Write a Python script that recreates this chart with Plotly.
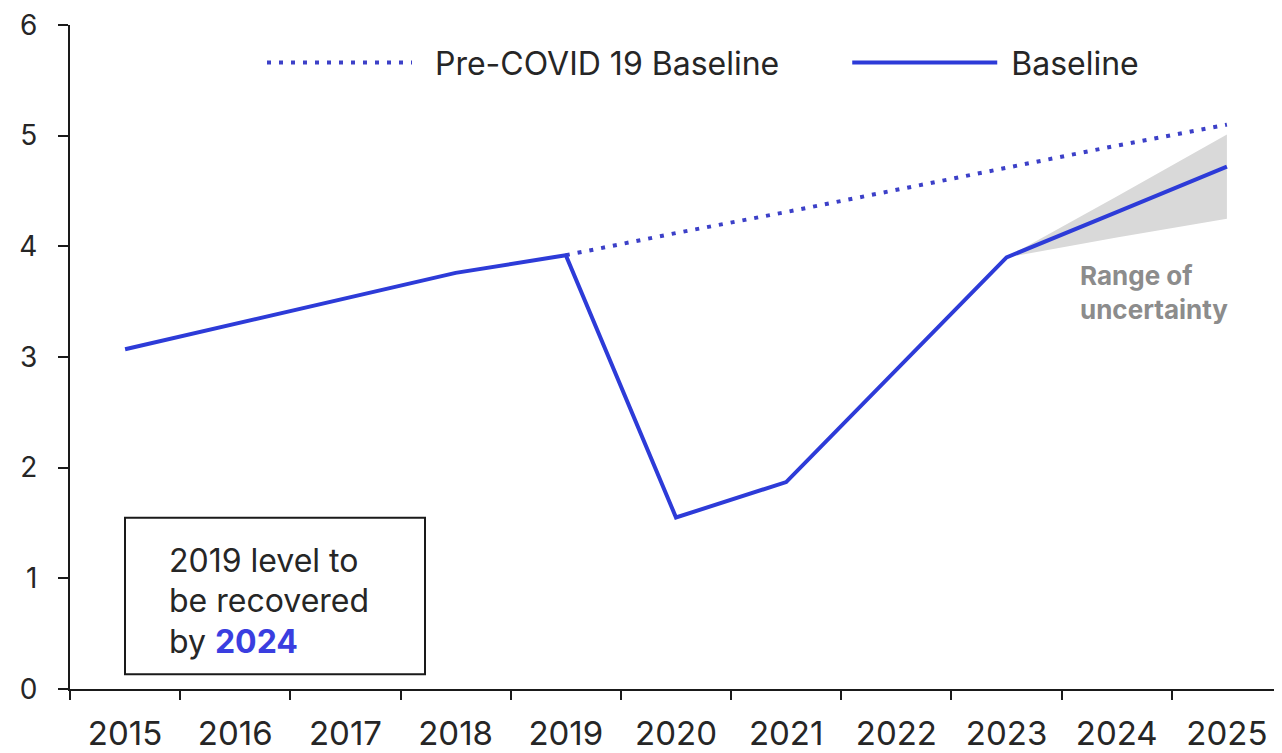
import plotly.graph_objects as go

years = ["2015", "2016", "2017", "2018", "2019", "2020", "2021", "2022", "2023", "2024", "2025"]
baseline = [3.07, 3.30, 3.53, 3.76, 3.92, 1.55, 1.87, 2.89, 3.90, 4.31, 4.72]
pre_covid_years = ["2019", "2020", "2021", "2022", "2023", "2024", "2025"]
pre_covid = [3.92, 4.12, 4.31, 4.51, 4.71, 4.91, 5.10]
band_years = ["2023", "2024", "2025"]
band_upper = [3.90, 4.45, 5.01]
band_lower = [3.90, 4.08, 4.25]
y_ticks = [0, 1, 2, 3, 4, 5, 6]

BLUE = "#2d3bd8"
DOT_BLUE = "#3c40c8"
TEXT = "#262626"
FONT = "Inter"
NB = "\u00a0"

# page body has an 8px margin; compensate so the plot area sits at
# x 70..1282 and y 22..693 in the window
OFF = 8
W, H = 1282 - OFF, 753 - OFF

fig = go.Figure()
fig.add_trace(go.Scatter(x=band_years, y=band_lower, mode="lines",
                         line=dict(width=0, color="rgba(0,0,0,0)"),
                         showlegend=False, hoverinfo="skip"))
fig.add_trace(go.Scatter(x=band_years, y=band_upper, mode="lines",
                         line=dict(width=0, color="rgba(0,0,0,0)"),
                         fill="tonexty", fillcolor="#d9d9d9",
                         showlegend=False, hoverinfo="skip"))
fig.add_trace(go.Scatter(x=pre_covid_years, y=pre_covid, mode="lines",
                         name=NB * 2 + "Pre-COVID 19 Baseline" + NB * 7,
                         line=dict(color=DOT_BLUE, width=4, dash="4px,8px")))
fig.add_trace(go.Scatter(x=years, y=baseline, mode="lines",
                         name=NB + "Baseline",
                         line=dict(color=BLUE, width=4)))

# annotation box
fig.add_shape(type="rect", xref="paper", yref="paper",
              x0=(125 - 70) / 1212, x1=(425 - 70) / 1212,
              y0=(693 - 678) / 671, y1=(693 - 520) / 671,
              line=dict(color="#1a1a1a", width=2), fillcolor="rgba(0,0,0,0)")
box_lines = ["2019 level to", "be recovered",
             "by <b><span style='color:#3a3ee0'>2024</span></b>"]
box_y = [563, 604, 645]
for t, py in zip(box_lines, box_y):
    fig.add_annotation(xref="paper", yref="paper", x=(167 - 70) / 1212,
                       y=(693 - py) / 671, text=t, showarrow=False,
                       xanchor="left", yanchor="middle",
                       font=dict(family=FONT, size=32, color=TEXT))

for t, py in zip(["Range of", "uncertainty"], [275, 310]):
    fig.add_annotation(xref="paper", yref="paper", x=(1078 - 70) / 1212,
                       y=(693 - py) / 671, text="<b>" + t + "</b>", showarrow=False,
                       xanchor="left", yanchor="middle",
                       font=dict(family=FONT, size=26, color="#8c8c8c"))

fig.update_layout(
    width=W, height=H,
    margin=dict(l=70 - OFF, r=0, t=22 - OFF, b=60 - OFF),
    paper_bgcolor="white", plot_bgcolor="white",
    font=dict(family=FONT, size=28, color=TEXT),
    legend=dict(orientation="h", x=(262 - 70) / 1212, y=(693 - 60) / 671,
                xanchor="left", yanchor="middle", itemwidth=145,
                font=dict(family=FONT, size=32, color=TEXT),
                bgcolor="rgba(0,0,0,0)", traceorder="normal"),
    xaxis=dict(type="category", categoryorder="array", categoryarray=years,
               range=[-0.5, 10.5], tickson="boundaries", ticks="outside",
               ticklen=9, tickwidth=2, tickcolor="#1a1a1a",
               showline=True, linecolor="#1a1a1a", linewidth=2,
               showgrid=False, zeroline=False,
               tickfont=dict(family=FONT, size=33, color=TEXT),
               ticklabelstandoff=14, ticklabeloverflow="allow"),
    yaxis=dict(range=[0, 6], tickvals=y_ticks, ticks="outside",
               ticklen=10, tickwidth=2, tickcolor="#1a1a1a",
               showline=True, linecolor="#1a1a1a", linewidth=2,
               showgrid=False, zeroline=False,
               tickfont=dict(family=FONT, size=28, color=TEXT),
               ticklabelstandoff=15, ticklabeloverflow="allow"),
)

fig.write_html("out.html")
